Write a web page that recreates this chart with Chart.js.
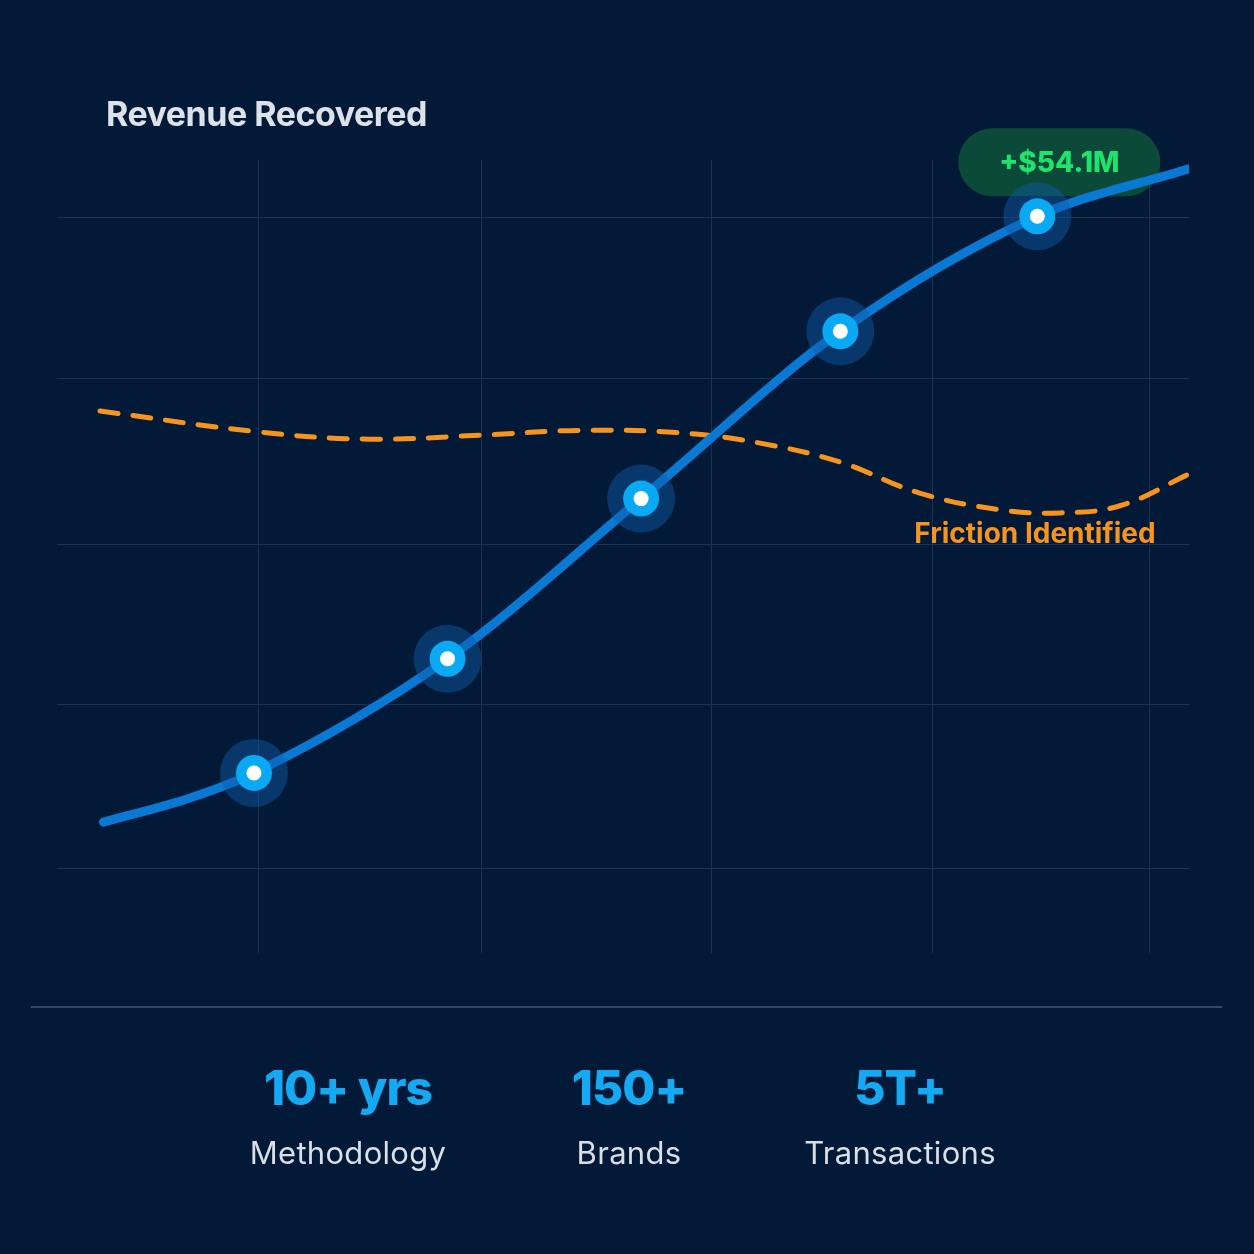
<!DOCTYPE html>
<html>
<head>
<meta charset="utf-8">
<script src="https://cdn.jsdelivr.net/npm/chart.js@4/dist/chart.umd.min.js"></script>
<style>
  html,body{margin:0;padding:0;background:#021a38;}
  #wrap{position:relative;width:1254px;height:1254px;background:#021a38;overflow:hidden;font-family:Inter,"Noto Sans",sans-serif;}
  #chart{position:absolute;left:0;top:0;}
  #title{position:absolute;left:106px;top:93px;font-size:34px;font-weight:700;color:#dde2ea;letter-spacing:-0.5px;}
  #sep{position:absolute;left:31px;top:1006px;width:1191px;height:2px;background:#34486a;}
  .stat{position:absolute;top:1057px;width:320px;text-align:center;}
  .stat .num{font-size:48px;font-weight:800;color:#14a9f2;letter-spacing:-1px;line-height:62px;}
  .stat .lbl{font-size:31px;color:#d9dee7;margin-top:14px;line-height:40px;letter-spacing:0.3px;}
</style>
</head>
<body>
<div id="wrap">
  <canvas id="chart" width="1254" height="1254"></canvas>
  <div id="title">Revenue Recovered</div>
  <div id="sep"></div>
  <div id="stats"></div>
</div>
<script>
// x positions as % of plot width, y as index 0-100
var xGrid=[17.8,37.5,57.8,77.3,96.5];
var yGrid=[10.6,31.3,51.5,72.5,92.8];

var revenueX=[4.1,11.75,17.4,34.5,51.6,69.2,86.6,100];
var revenueY=[16.5,19.55,22.7,37.1,57.3,78.4,92.9,98.9];
var markerIdx=[2,3,4,5,6];

var frictionX=[3.8,17.9,27.65,37.4,46.2,55.0,62.1,69.2,76.2,83.3,88.6,93.9,100];
var frictionY=[68.35,65.7,64.8,65.3,65.9,65.6,64.3,61.9,58.0,55.9,55.5,56.4,60.4];

var badgeText='+$54.1M';
var frictionLabel='Friction Identified';

var statNums=['10+ yrs','150+','5T+'];
var statLabels=['Methodology','Brands','Transactions'];
var statCenters=[348,629,900];

function toPts(xs,ys){
    var out=[];
    for(var i=0;i<xs.length;i++){
        out.push({x:xs[i],y:ys[i]});
    }
    return out;
}
var revenuePts=toPts(revenueX,revenueY);
var frictionPts=toPts(frictionX,frictionY);
var markerPts=[];
for(var i=0;i<markerIdx.length;i++){
    markerPts.push(revenuePts[markerIdx[i]]);
}

function roundRect(ctx,x,y,w,h,r){
    ctx.beginPath();
    ctx.moveTo(x+r,y);
    ctx.lineTo(x+w-r,y);
    ctx.arc(x+w-r,y+r,r,-Math.PI/2,0);
    ctx.lineTo(x+w,y+h-r);
    ctx.arc(x+w-r,y+h-r,r,0,Math.PI/2);
    ctx.lineTo(x+r,y+h);
    ctx.arc(x+r,y+h-r,r,Math.PI/2,Math.PI);
    ctx.lineTo(x,y+r);
    ctx.arc(x+r,y+r,r,Math.PI,Math.PI*1.5);
    ctx.closePath();
}

// badge above last marker, label under friction dip
var annotations={
    id:'annotations',
    beforeDatasetsDraw:function(chart){
        var ctx=chart.ctx;
        var xs=chart.scales.x, ys=chart.scales.y;
        var last=markerPts[markerPts.length-1];
        var cx=xs.getPixelForValue(last.x)+22;
        var cy=ys.getPixelForValue(last.y)-54;
        ctx.save();
        roundRect(ctx,cx-101,cy-34,202,68,34);
        ctx.fillStyle='#0b4a38';
        ctx.fill();
        ctx.fillStyle='#1ee36c';
        ctx.font='800 28px Inter, "Noto Sans", sans-serif';
        ctx.textAlign='center';
        ctx.textBaseline='middle';
        ctx.fillText(badgeText,cx,cy+1);
        ctx.restore();
    },
    afterDatasetsDraw:function(chart){
        var ctx=chart.ctx;
        var xs=chart.scales.x, ys=chart.scales.y;
        var p=frictionPts[10];
        ctx.save();
        ctx.fillStyle='#f7941d';
        ctx.font='700 28px Inter, "Noto Sans", sans-serif';
        ctx.textAlign='center';
        ctx.textBaseline='middle';
        ctx.fillText(frictionLabel,xs.getPixelForValue(p.x)-25,ys.getPixelForValue(p.y)+22);
        ctx.restore();
    }
};

new Chart(document.getElementById('chart').getContext('2d'),{
    type:'line',
    data:{
        datasets:[
            {
                label:'Friction',
                data:frictionPts,
                borderColor:'#f7941d',
                borderWidth:5,
                borderDash:[18,15],
                borderCapStyle:'round',
                pointRadius:0,
                tension:0.4,
                fill:false,
                order:4
            },
            {
                label:'Revenue',
                data:revenuePts,
                borderColor:'#0a79d4',
                borderWidth:9,
                borderCapStyle:'round',
                pointRadius:0,
                cubicInterpolationMode:'monotone',
                fill:false,
                order:3
            },
            {
                label:'halo',
                data:markerPts,
                showLine:false,
                pointRadius:34,
                pointBackgroundColor:'rgba(14,90,170,0.45)',
                pointBorderWidth:0,
                order:2
            },
            {
                label:'dot',
                data:markerPts,
                showLine:false,
                pointRadius:18,
                pointBackgroundColor:'#0aa9f3',
                pointBorderWidth:0,
                order:1
            },
            {
                label:'core',
                data:markerPts,
                showLine:false,
                pointRadius:7.5,
                pointBackgroundColor:'#ffffff',
                pointBorderWidth:0,
                order:0
            }
        ]
    },
    options:{
        responsive:false,
        animation:false,
        layout:{padding:{left:57,top:160,right:65,bottom:301}},
        plugins:{legend:{display:false},tooltip:{enabled:false},title:{display:false}},
        scales:{
            x:{
                type:'linear',min:0,max:100,
                ticks:{display:false},
                border:{display:false},
                grid:{color:'#1d3150',lineWidth:1,drawTicks:false},
                afterBuildTicks:function(s){s.ticks=xGrid.map(function(v){return {value:v};});}
            },
            y:{
                type:'linear',min:0,max:100,
                ticks:{display:false},
                border:{display:false},
                grid:{color:'#1d3150',lineWidth:1,drawTicks:false},
                afterBuildTicks:function(s){s.ticks=yGrid.map(function(v){return {value:v};});}
            }
        }
    },
    plugins:[annotations]
});

var stats=document.getElementById('stats');
for(var i=0;i<statNums.length;i++){
    var d=document.createElement('div');
    d.className='stat';
    d.style.left=(statCenters[i]-160)+'px';
    d.innerHTML='<div class="num">'+statNums[i]+'</div><div class="lbl">'+statLabels[i]+'</div>';
    stats.appendChild(d);
}
</script>
</body>
</html>
